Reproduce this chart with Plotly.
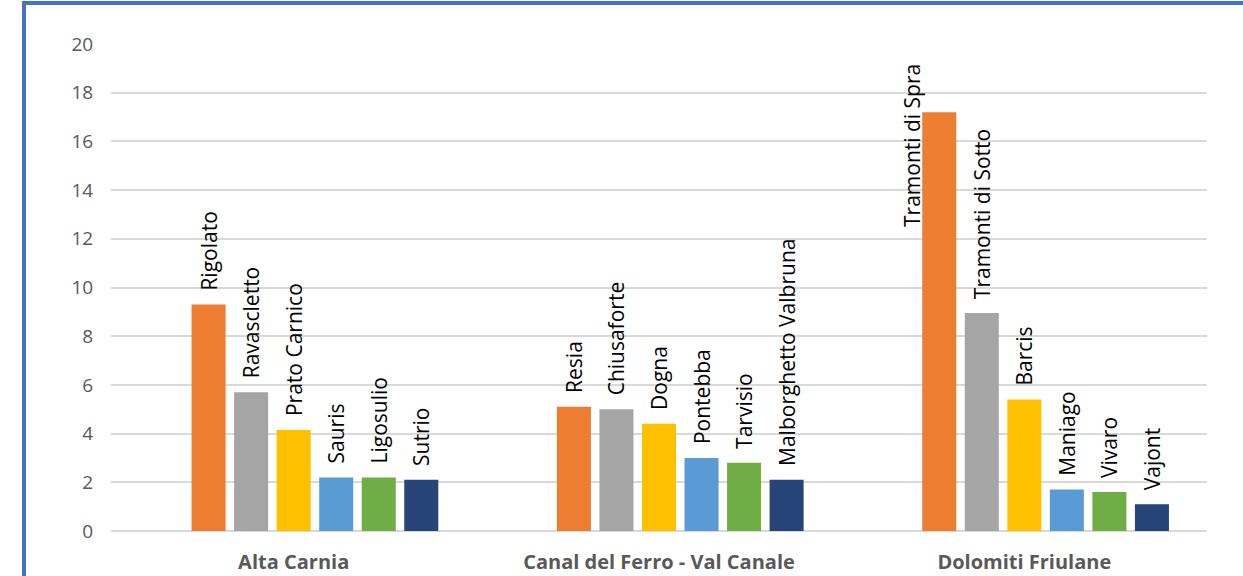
import plotly.graph_objects as go

categories = ["Alta Carnia", "Canal del Ferro - Val Canale", "Dolomiti Friulane"]

# the source chart has an empty first series that reserves the first slot of each group
blank_vals = [0, 0, 0]

# one series per bar position within each group
s1_names = ["Rigolato", "Resia", "Tramonti di Spra"]
s1_vals = [9.3, 5.1, 17.2]
s2_names = ["Ravascletto", "Chiusaforte", "Tramonti di Sotto"]
s2_vals = [5.7, 5.0, 8.95]
s3_names = ["Prato Carnico", "Dogna", "Barcis"]
s3_vals = [4.15, 4.4, 5.4]
s4_names = ["Sauris", "Pontebba", "Maniago"]
s4_vals = [2.2, 3.0, 1.7]
s5_names = ["Ligosulio", "Tarvisio", "Vivaro"]
s5_vals = [2.2, 2.8, 1.6]
s6_names = ["Sutrio", "Malborghetto Valbruna", "Vajont"]
s6_vals = [2.1, 2.1, 1.1]

colors = ["#ED7D31", "#A5A5A5", "#FFC000", "#5B9BD5", "#70AD47", "#264478"]
y_ticks = [0, 2, 4, 6, 8, 10, 12, 14, 16, 18, 20]

series = [(s1_names, s1_vals), (s2_names, s2_vals), (s3_names, s3_vals),
          (s4_names, s4_vals), (s5_names, s5_vals), (s6_names, s6_vals)]

W, H = 1243, 576
ml, mr, mt, mb = 111, 36, 44, 45
pw, ph = W - ml - mr, H - mt - mb

LABEL_FONT = dict(family="Open Sans", size=21, color="#000000")

fig = go.Figure()
fig.add_trace(go.Bar(
    x=categories, y=blank_vals,
    marker=dict(color="rgba(0,0,0,0)", line=dict(width=0)),
    showlegend=False, hoverinfo="skip",
))
for i, ((names, vals), col) in enumerate(zip(series, colors)):
    texts = []
    for j, n in enumerate(names):
        # the tallest bar's label does not fit above it; it is drawn beside the bar
        if i == 0 and j == 2:
            texts.append("")
        else:
            texts.append("\u00a0\u00a0" + n)
    fig.add_trace(go.Bar(
        x=categories, y=vals,
        marker=dict(color=col, line=dict(width=0)),
        text=texts,
        textposition="outside",
        textangle=-90,
        constraintext="none",
        cliponaxis=False,
        textfont=LABEL_FONT,
        showlegend=False,
        hoverinfo="skip",
    ))

fig.add_annotation(
    x=categories[2], y=s1_vals[2], text=s1_names[2],
    textangle=-90, showarrow=False, font=LABEL_FONT,
    xanchor="center", yanchor="top", xshift=-113, yshift=50,
)

def px_to_paper_x(p):
    return (p - ml) / pw

def px_to_paper_y(p):
    return 1 - (p - mt) / ph

fig.update_layout(
    width=W, height=H,
    margin=dict(l=ml, r=mr, t=mt, b=mb, pad=0, autoexpand=False),
    paper_bgcolor="white", plot_bgcolor="white",
    barmode="group", bargap=0.185, bargroupgap=0.2,
    xaxis=dict(
        type="category", range=[-0.5, 2.5], showgrid=False, zeroline=False,
        showline=False, automargin=False,
        ticks="outside", ticklen=13, tickcolor="rgba(0,0,0,0)",
        tickfont=dict(family="Open Sans", size=20, color="#595959", weight="bold"),
    ),
    yaxis=dict(
        range=[0, 20], tickvals=y_ticks, showgrid=True, automargin=False,
        gridcolor="#D9D9D9", gridwidth=2, zeroline=True,
        zerolinecolor="#D9D9D9", zerolinewidth=2, showline=False,
        ticks="outside", ticklen=13, tickcolor="rgba(0,0,0,0)",
        tickfont=dict(family="Open Sans", size=19, color="#595959"),
    ),
    shapes=[
        dict(type="line", xref="paper", yref="paper",
             x0=px_to_paper_x(24), x1=px_to_paper_x(24),
             y0=px_to_paper_y(1), y1=px_to_paper_y(600),
             line=dict(color="#4472C4", width=4)),
        dict(type="line", xref="paper", yref="paper",
             x0=px_to_paper_x(22), x1=px_to_paper_x(1260),
             y0=px_to_paper_y(3), y1=px_to_paper_y(3),
             line=dict(color="#4472C4", width=4)),
    ],
)

fig.write_html("out.html")
